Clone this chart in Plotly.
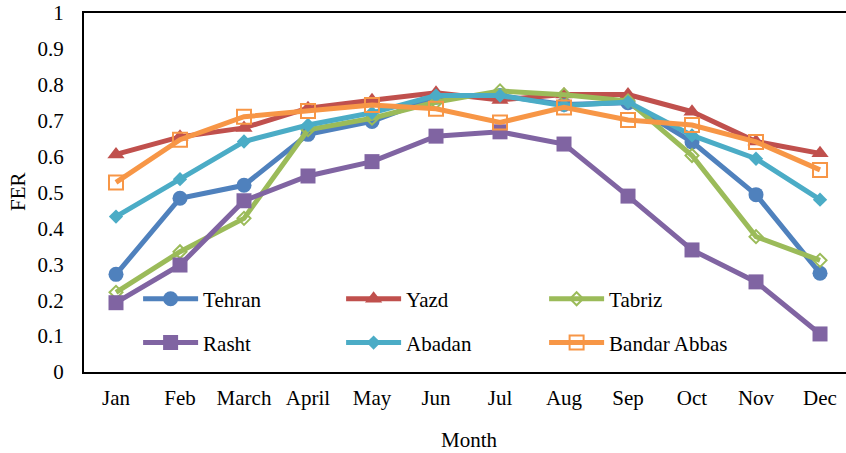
import plotly.graph_objects as go

months = ["Jan", "Feb", "March", "April", "May", "Jun", "Jul", "Aug", "Sep", "Oct", "Nov", "Dec"]

tehran = [0.272, 0.484, 0.52, 0.662, 0.698, 0.765, 0.77, 0.745, 0.75, 0.641, 0.494, 0.275]
yazd = [0.606, 0.655, 0.68, 0.735, 0.757, 0.778, 0.758, 0.773, 0.773, 0.725, 0.642, 0.609]
tabriz = [0.222, 0.335, 0.428, 0.675, 0.707, 0.752, 0.783, 0.772, 0.755, 0.603, 0.377, 0.311]
rasht = [0.193, 0.298, 0.477, 0.546, 0.586, 0.657, 0.669, 0.635, 0.49, 0.34, 0.251, 0.106]
abadan = [0.433, 0.537, 0.642, 0.688, 0.722, 0.77, 0.77, 0.742, 0.752, 0.659, 0.594, 0.48]
bandar = [0.528, 0.647, 0.711, 0.727, 0.744, 0.733, 0.695, 0.737, 0.702, 0.688, 0.641, 0.563]

series = [
    ("Tehran", tehran, "#4F81BD", "circle", 15, "legend"),
    ("Yazd", yazd, "#C0504D", "triangle-up", 15, "legend"),
    ("Tabriz", tabriz, "#9BBB59", "diamond-open", 10, "legend"),
    ("Rasht", rasht, "#8064A2", "square", 15, "legend2"),
    ("Abadan", abadan, "#4BACC6", "diamond", 11, "legend2"),
    ("Bandar Abbas", bandar, "#F79646", "square-open", 14, "legend2"),
]

FONT = "Liberation Serif, Times New Roman, serif"
FS = 21

fig = go.Figure()
for name, vals, color, sym, size, leg in series:
    open_marker = sym.endswith("-open")
    fig.add_trace(go.Scatter(
        x=list(range(len(months))), y=vals, name=name, mode="lines+markers",
        line=dict(color=color, width=5),
        marker=dict(symbol=sym, size=size, color=color,
                    line=dict(color=color, width=2 if open_marker else 0)),
        legend=leg,
    ))

legend_common = dict(
    orientation="h", entrywidth=133, entrywidthmode="pixels", itemwidth=55,
    font=dict(family=FONT, size=FS, color="black"), bgcolor="rgba(0,0,0,0)",
    xanchor="left", yanchor="middle",
)

W, H = 846, 453
L, R, T, B = 84, 0, 13, 81
pw, ph = W - L - R, H - T - B

fig.update_layout(
    width=W, height=H,
    margin=dict(l=L, r=R, t=T, b=B),
    paper_bgcolor="white", plot_bgcolor="white",
    font=dict(family=FONT, size=FS, color="black"),
    showlegend=True,
    legend=dict(x=0.071, y=0.203, **legend_common),
    legend2=dict(x=0.071, y=0.081, **legend_common),
    xaxis=dict(
        tickmode="array", tickvals=list(range(len(months))), ticktext=months,
        range=[-0.5, 11.406], showgrid=False, zeroline=False, automargin=False,
        showline=True, linecolor="black", linewidth=2, mirror=True,
        ticks="", ticklabelstandoff=6,
    ),
    yaxis=dict(
        range=[0, 1], dtick=0.1, tickformat="~g", showgrid=False, zeroline=False,
        automargin=False,
        showline=True, linecolor="black", linewidth=2, mirror=False,
        ticks="", ticklabelstandoff=14,
    ),
    annotations=[
        dict(text="Month", x=(470 - L) / pw, y=(H - B - 440) / ph,
             xref="paper", yref="paper", xanchor="center", yanchor="middle",
             showarrow=False, font=dict(family=FONT, size=FS)),
        dict(text="FER", x=(18 - L) / pw, y=(H - B - 192) / ph,
             xref="paper", yref="paper", xanchor="center", yanchor="middle",
             textangle=-90, showarrow=False, font=dict(family=FONT, size=FS)),
    ],
)

fig.write_html("out.html", config={"displayModeBar": False},
               post_script="document.body.style.margin='0';")
